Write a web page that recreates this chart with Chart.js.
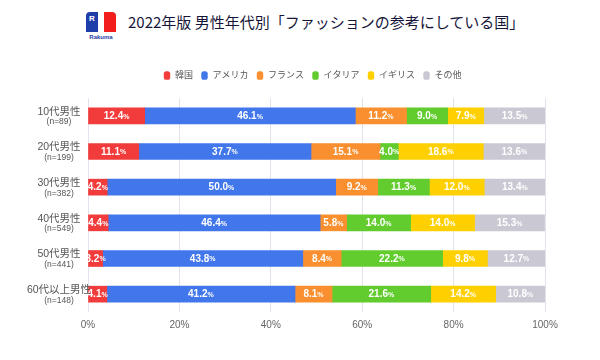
<!DOCTYPE html>
<html lang="ja">
<head>
<meta charset="utf-8">
<script src="https://cdn.jsdelivr.net/npm/chart.js@4/dist/chart.umd.min.js"></script>
<style>
  body { margin: 0; background: #fff; }
  #wrap { position: relative; width: 600px; height: 360px; overflow: hidden; font-family: "Noto Sans CJK JP", sans-serif; }
  #logo { position: absolute; left: 85px; top: 11px; width: 32px; height: 32px; }
  #logo .b { position: absolute; left: 1px; top: 1px; width: 12px; height: 20px; background: #1f3fa8; border-top-left-radius: 4px; color: #fff; font: bold 8px "Liberation Sans", sans-serif; text-align: center; line-height: 14px; }
  #logo .r { position: absolute; left: 19px; top: 1px; width: 12px; height: 20px; background: #f21d1d; border-top-right-radius: 4px; }
  #logo .t { position: absolute; left: 0; top: 23px; width: 32px; text-align: center; font: bold 6px "Liberation Sans", sans-serif; color: #1f3fa8; }
  #title { position: absolute; left: 128px; top: 11px; font-size: 15px; font-weight: 400; color: #15153a; white-space: nowrap; letter-spacing: 0; }
  #box { position: absolute; left: 0; top: 56px; width: 600px; height: 304px; }
</style>
</head>
<body>
<div id="wrap">
  <div id="logo"><div class="b">R</div><div class="r"></div><div class="t">Rakuma</div></div>
  <div id="title">2022年版 男性年代別「ファッションの参考にしている国」</div>
  <div id="box"><canvas id="chart"></canvas></div>
</div>
<script>
  const groups = ["10代男性", "20代男性", "30代男性", "40代男性", "50代男性", "60代以上男性"];
  const sampleSizes = ["(n=89)", "(n=199)", "(n=382)", "(n=549)", "(n=441)", "(n=148)"];
  const countries = ["韓国", "アメリカ", "フランス", "イタリア", "イギリス", "その他"];
  const korea = [12.4, 11.1, 4.2, 4.4, 3.2, 4.1];
  const america = [46.1, 37.7, 50.0, 46.4, 43.8, 41.2];
  const france = [11.2, 15.1, 9.2, 5.8, 8.4, 8.1];
  const italy = [9.0, 4.0, 11.3, 14.0, 22.2, 21.6];
  const britain = [7.9, 18.6, 12.0, 14.0, 9.8, 14.2];
  const other = [13.5, 13.6, 13.4, 15.3, 12.7, 10.8];
  const colors = ["#f23b3b", "#4277ec", "#f98f2e", "#62cc2f", "#ffd000", "#c9c8d3"];

  const seriesList = [korea, america, france, italy, britain, other];
  const numFont = '"Liberation Sans", "Noto Sans CJK JP", sans-serif';

  // a bit more room between legend and bars
  const legendGap = {
    id: "legendGap",
    beforeInit(chart) {
      const fit = chart.legend.fit;
      chart.legend.fit = function () {
        fit.bind(chart.legend)();
        this.height += 8;
      };
    },
  };

  // draws the two-line group labels to the left of each bar
  const groupLabels = {
    id: "groupLabels",
    afterDraw(chart) {
      const ctx = chart.ctx;
      const yScale = chart.scales.y;
      ctx.save();
      ctx.textAlign = "center";
      ctx.textBaseline = "middle";
      groups.forEach((g, i) => {
        const y = yScale.getPixelForValue(i);
        ctx.fillStyle = "#555";
        ctx.font = '10.5px ' + numFont;
        ctx.fillText(g, 59, y - 4);
        ctx.font = '8.5px ' + numFont;
        ctx.fillText(sampleSizes[i], 59, y + 6);
      });
      ctx.restore();
    },
  };

  // value + small % sign in the middle of each segment
  const valueLabels = {
    id: "valueLabels",
    afterDatasetsDraw(chart) {
      const ctx = chart.ctx;
      ctx.save();
      ctx.textBaseline = "middle";
      ctx.fillStyle = "#fff";
      chart.data.datasets.forEach((ds, di) => {
        const meta = chart.getDatasetMeta(di);
        meta.data.forEach((bar, i) => {
          const num = ds.data[i].toFixed(1);
          const cx = (bar.x + bar.base) / 2;
          ctx.font = 'bold 10px ' + numFont;
          const w1 = ctx.measureText(num).width;
          ctx.font = 'bold 7px ' + numFont;
          const w2 = ctx.measureText("%").width;
          const start = cx - (w1 + w2) / 2;
          ctx.textAlign = "left";
          ctx.font = 'bold 10px ' + numFont;
          ctx.fillText(num, start, bar.y + 0.5);
          ctx.font = 'bold 7px ' + numFont;
          ctx.fillText("%", start + w1, bar.y + 1);
        });
      });
      ctx.restore();
    },
  };

  new Chart(document.getElementById("chart"), {
    type: "bar",
    data: {
      labels: groups,
      datasets: countries.map((c, i) => ({
        label: c,
        data: seriesList[i],
        backgroundColor: colors[i],
        borderWidth: 0,
        barThickness: 16,
      })),
    },
    options: {
      indexAxis: "y",
      responsive: true,
      maintainAspectRatio: false,
      animation: false,
      layout: { padding: { left: 80, right: 55, top: 7, bottom: 22 } },
      scales: {
        x: {
          stacked: true,
          min: 0,
          max: 100,
          ticks: {
            stepSize: 20,
            padding: 7,
            color: "#666",
            font: { size: 10, family: numFont },
            callback: (v) => v + "%",
          },
          grid: { color: "#e2e2ec", drawTicks: false },
          border: { display: false },
        },
        y: {
          stacked: true,
          ticks: { display: false },
          grid: { display: false },
          border: { display: false },
        },
      },
      plugins: {
        legend: {
          position: "top",
          labels: {
            usePointStyle: true,
            pointStyle: "rectRounded",
            boxHeight: 7,
            pointStyleWidth: 7,
            padding: 8,
            color: "#555",
            font: { size: 9, family: numFont },
          },
        },
        tooltip: { enabled: false },
      },
    },
    plugins: [legendGap, groupLabels, valueLabels],
  });
</script>
</body>
</html>
